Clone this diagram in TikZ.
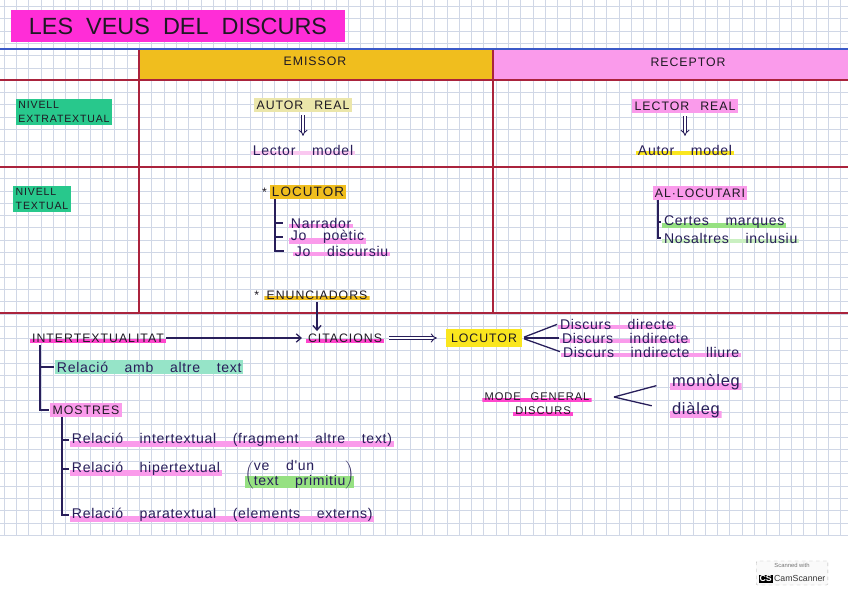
\documentclass[tikz,border=0pt]{standalone}
\usepackage{fontspec}
\setmainfont{Liberation Sans}
\newfontfamily\lletratitol{Liberation Sans}[WordSpace=2]
\newfontfamily\lletramaj{Liberation Sans}[LetterSpace=8,WordSpace=2.5]
\newfontfamily\lletramin{Liberation Sans}[LetterSpace=5,WordSpace=3.6]
\usetikzlibrary{positioning,arrows.meta}

\definecolor{tinta}{RGB}{30,25,35}
\definecolor{tintablava}{RGB}{40,30,90}
\definecolor{quad}{RGB}{208,215,230}
\definecolor{vermell}{RGB}{170,35,60}
\definecolor{blaulinia}{RGB}{60,90,200}
\definecolor{rosatitol}{RGB}{255,45,215}
\definecolor{groc}{RGB}{240,190,30}
\definecolor{grocviu}{RGB}{250,230,30}
\definecolor{grocpal}{RGB}{235,230,170}
\definecolor{rosa}{RGB}{250,155,235}
\definecolor{rosapal}{RGB}{250,200,240}
\definecolor{rosafort}{RGB}{255,70,205}
\definecolor{verd}{RGB}{40,200,140}
\definecolor{verdclar}{RGB}{150,225,130}
\definecolor{verdaigua}{RGB}{150,228,200}

\tikzset{
  majus/.style={font=\lletramaj\fontsize{10.5}{12}\selectfont, text=tinta, inner sep=2pt},
  minus/.style={font=\lletramin\fontsize{12}{14}\selectfont, text=tintablava, inner sep=1.5pt},
  nivell/.style={majus, font=\lletramaj\fontsize{9}{12}\selectfont, fill=verd, align=left},
  marca/.style={path picture={\fill[#1] ([yshift=1.5pt]path picture bounding box.south west) rectangle ([yshift=-1pt]path picture bounding box.east);}},
  branca/.style={draw=tintablava, line width=1.1pt},
  fletxa/.style={branca, -{Straight Barb[length=4pt,width=7pt]}},
  implica/.style={draw=tintablava, double, double distance=1.8pt, line width=0.75pt, -{Implies}},
  liniavermella/.style={draw=vermell, line width=1pt},
  quadricula/.style={draw=quad, line width=0.4pt}
}

\begin{document}
\begin{tikzpicture}[x=0.03cm,y=-0.03cm]
\useasboundingbox (0,0) rectangle (848,599);
\fill[white] (0,0) rectangle (848,599);

% quadricula del paper
\foreach \i in {0,...,68} \draw[quadricula] ({4+\i*12.3},0) -- ++(0,536);
\foreach \j in {0,...,43} \draw[quadricula] (0,{6.3+\j*12.3}) -- ++(848,0);

% capçaleres de la taula
\fill[groc] (139,50) rectangle (493,80);
\fill[rosa] (493,50) rectangle (848,80);
\draw[blaulinia, line width=1pt] (0,49) -- (848,49);
\draw[liniavermella] (0,80) -- (848,80);
\draw[liniavermella] (0,167) -- (848,167);
\draw[liniavermella] (0,313) -- (848,313);
\draw[liniavermella] (139,50) -- (139,313);
\draw[liniavermella] (493,50) -- (493,313);

\node[majus, fill=rosatitol, font=\lletratitol\fontsize{20}{22}\selectfont, minimum width=10cm, minimum height=0.95cm] (titol) at (178,26) {LES VEUS DEL DISCURS};

\node[majus] (emi) at (315,61) {EMISSOR};
\node[majus] (rec) at (688,62) {RECEPTOR};

\node[nivell] (next) at (64,112) {NIVELL\\EXTRATEXTUAL};
\node[nivell] (ntext) at (42,199) {NIVELL\\TEXTUAL};

% nivell extratextual
\node[majus, fill=grocpal] (autor) at (303,105) {AUTOR REAL};
\node[minus, marca=rosapal] (lmodel) at (303,150) {Lector model};
\draw[implica, shorten <=3pt, shorten >=6pt] (autor) -- (lmodel);

\node[majus, fill=rosa] (lreal) at (685,106) {LECTOR REAL};
\node[minus, marca=grocviu] (amodel) at (685,150) {Autor model};
\draw[implica, shorten <=3pt, shorten >=6pt] (lreal) -- (amodel);

% nivell textual
\node[majus, fill=groc, font=\lletramaj\fontsize{11.5}{13}\selectfont] (loc1) at (308,192) {LOCUTOR};
\node[majus, left=0pt of loc1] (estel1) {*};
\node[minus, marca=rosa, anchor=west] (narr) at (289,223) {Narrador};
\node[minus, marca=rosa, anchor=west] (jop) at (289,237) {Jo poètic};
\node[minus, marca=rosa, anchor=west] (jod) at (293,251) {Jo discursiu};
\coordinate (t1) at (loc1.south -| 275,0);
\draw[branca, shorten >=5pt] (t1) |- (narr.west);
\draw[branca, shorten >=5pt] (t1) |- (jop.west);
\draw[branca, shorten >=8pt] (t1) |- (jod.west);

\node[majus, fill=rosa] (alloc) at (700,193) {AL·LOCUTARI};
\node[minus, marca=verdclar, anchor=west] (certes) at (662,222) {Certes marques};
\node[minus, marca=verdclar!50, anchor=west] (nosal) at (662,238) {Nosaltres inclusiu};
\coordinate (t2) at (alloc.south -| 658,0);
\draw[branca, shorten >=1pt] (t2) |- (certes.west);
\draw[branca, shorten >=1pt] (t2) |- (nosal.west);

\node[majus, marca=groc] (enun) at (317,295) {ENUNCIADORS};
\node[majus, left=2pt of enun] (estel2) {*};

% part inferior
\node[majus, marca=rosafort] (interx) at (98,338) {INTERTEXTUALITAT};
\node[majus, marca=rosafort] (cita) at (345,338) {CITACIONS};
\node[majus, fill=grocviu, inner sep=4pt] (loc2) at (484,338) {LOCUTOR};
\draw[fletxa, shorten >=3pt] (interx) -- (cita);
\draw[fletxa] (enun.south) -- (enun.south |- cita.north);
\draw[implica, shorten <=4pt, shorten >=8pt] (cita) -- (loc2);

\node[minus, marca=rosa, anchor=west] (dd) at (558,324) {Discurs directe};
\node[minus, marca=rosa, anchor=west] (di) at (560,338) {Discurs indirecte};
\node[minus, marca=rosa, anchor=west] (dil) at (561,352) {Discurs indirecte lliure};
\foreach \d in {dd,di,dil} \draw[branca, shorten <=2pt, shorten >=1pt] (loc2.east) -- (\d.west);

\node[minus, fill=verdaigua, anchor=west] (altre) at (55,367) {Relació amb altre text};
\node[majus, fill=rosa] (mostres) at (86,410) {MOSTRES};
\coordinate (t3) at (interx.south -| 40,0);
\draw[branca, shorten >=1pt] (t3) |- (altre.west);
\draw[branca, shorten >=1pt] (t3) |- (mostres.west);

\node[minus, marca=rosa, anchor=west] (rinter) at (70,440) {Relació intertextual (fragment altre text)};
\node[minus, marca=rosa, anchor=west] (rhiper) at (70,469) {Relació hipertextual};
\node[minus, marca=verdclar, anchor=west, inner sep=0pt] (prim) at (245,475)
  {$\left(\renewcommand\arraystretch{0.85}\begin{tabular}{@{}l@{}}ve d'un\\text primitiu\end{tabular}\right)$};
\node[minus, marca=rosa, anchor=west] (rpara) at (70,515) {Relació paratextual (elements externs)};
\coordinate (t4) at (mostres.south -| 62,0);
\draw[branca, shorten >=1pt] (t4) |- (rinter.west);
\draw[branca, shorten >=1pt] (t4) |- (rhiper.west);
\draw[branca, shorten >=1pt] (t4) |- (rpara.west);

\node[majus, marca=rosafort, font=\lletramaj\fontsize{9.5}{11}\selectfont] (mode) at (537,397) {MODE GENERAL};
\node[majus, marca=rosafort, font=\lletramaj\fontsize{9.5}{11}\selectfont] (discurs) at (543,411) {DISCURS};
\node[minus, marca=rosa, anchor=west, font=\lletramin\fontsize{14}{16}\selectfont] (mono) at (670,382) {monòleg};
\node[minus, marca=rosa, anchor=west, font=\lletramin\fontsize{14}{16}\selectfont] (dia) at (670,410) {diàleg};
\coordinate (vert) at (614,397);
\draw[branca, shorten >=12pt] (vert) -- (mono.west);
\draw[branca, shorten >=16pt] (vert) -- (dia.west);

% segell de l'escàner
\node[draw=gray!60, dashed, rounded corners=1pt, fill=gray!4, align=center, inner sep=2pt] (cs) at (792,573)
  {{\fontsize{5}{6}\selectfont\color{gray!90!black}Scanned with}\\
   {\fontsize{7.5}{8}\selectfont\setlength\fboxsep{0.8pt}\colorbox{black}{\color{white}\bfseries CS}\,\color{black!80}CamScanner}};
\end{tikzpicture}
\end{document}
